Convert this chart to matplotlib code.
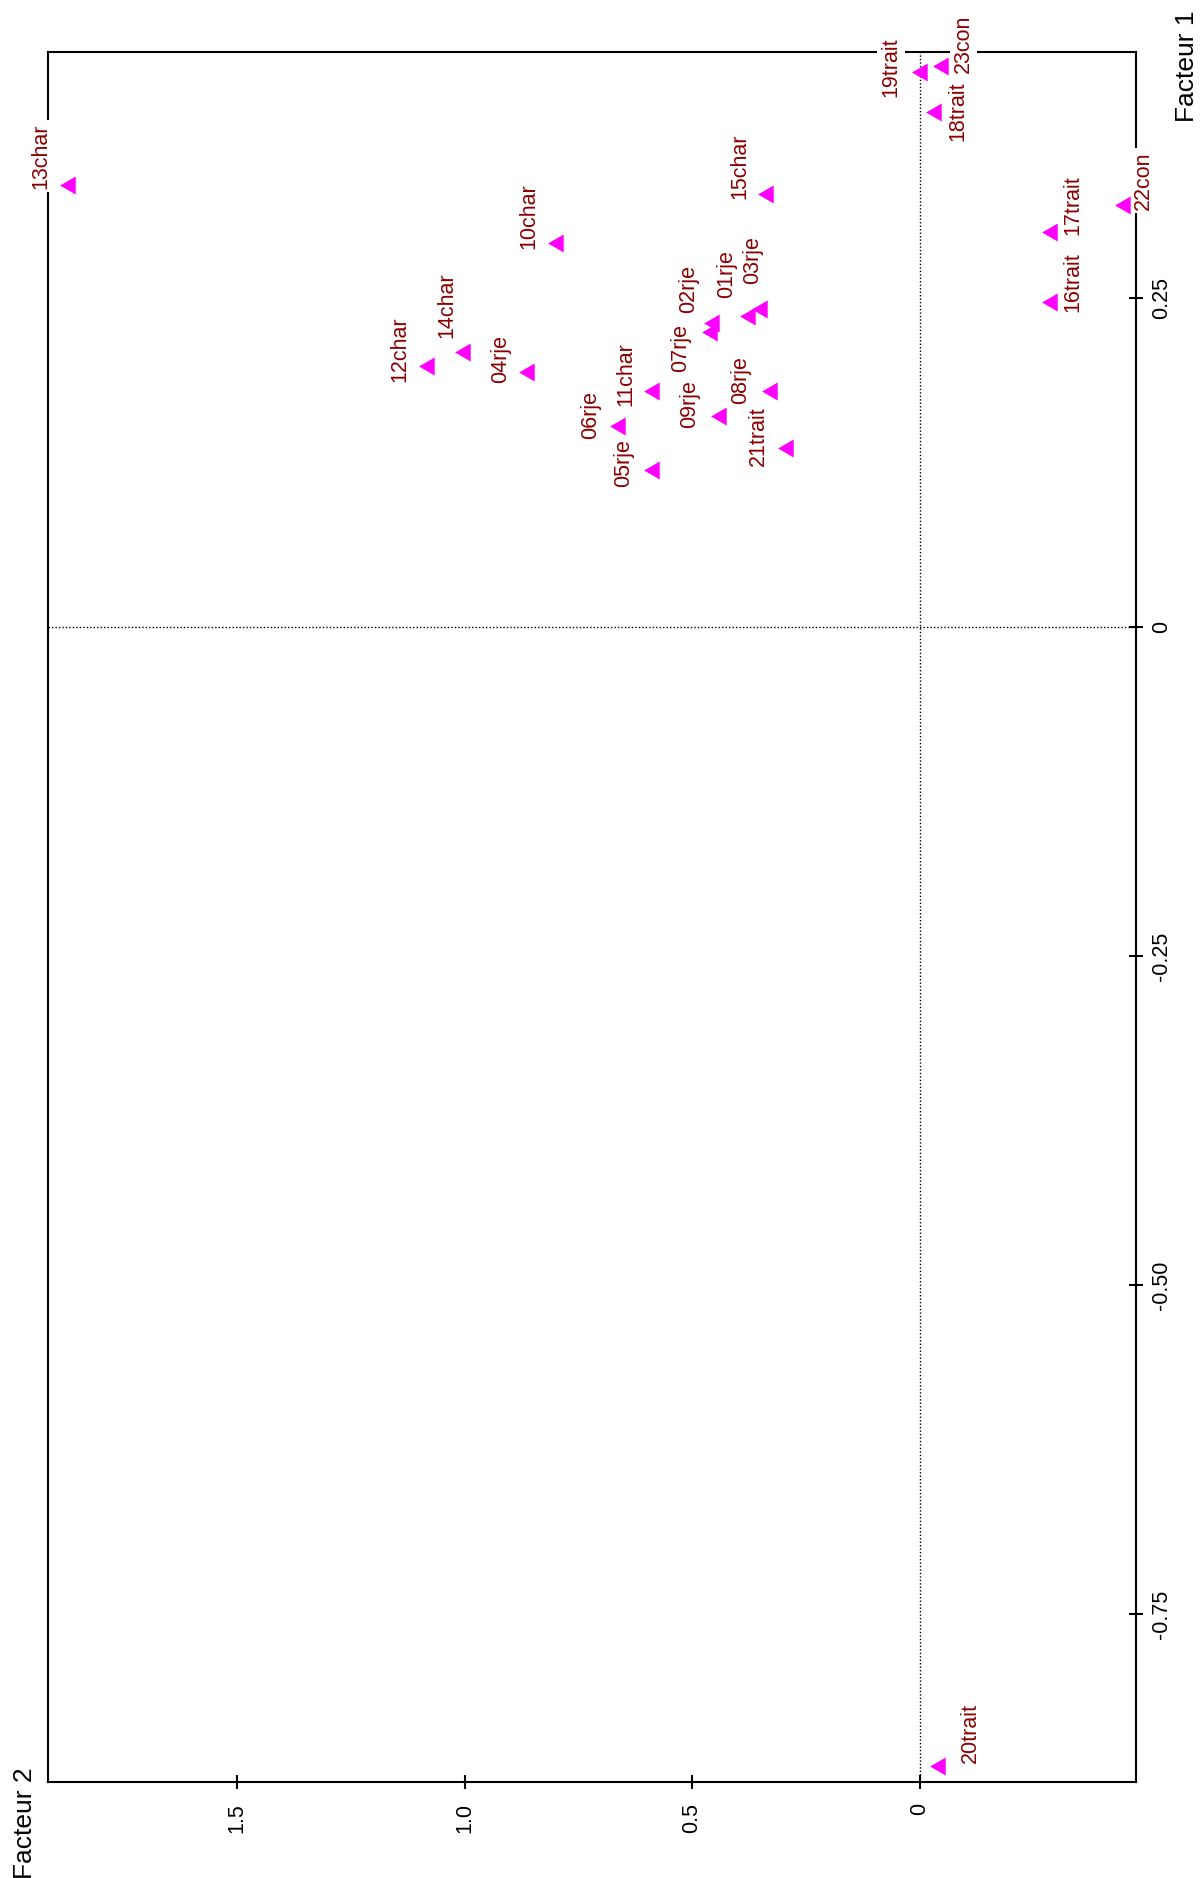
import matplotlib
matplotlib.use("Agg")
import matplotlib.pyplot as plt

plt.rcParams['font.family'] = ['Liberation Sans', 'DejaVu Sans']

# points of the factor map (Facteur 1, Facteur 2)
names = ['13char', '10char', '12char', '14char', '04rje', '06rje', '11char', '05rje',
         '09rje', '07rje', '02rje', '01rje', '03rje', '08rje', '21trait', '19trait',
         '23con', '18trait', '15char', '22con', '17trait', '16trait', '20trait']
fact1 = [0.336, 0.292, 0.198, 0.209, 0.194, 0.153, 0.179, 0.119,
         0.160, 0.224, 0.231, 0.236, 0.242, 0.179, 0.136, 0.422,
         0.426, 0.391, 0.329, 0.321, 0.300, 0.247, -0.8655]
fact2 = [1.867, 0.795, 1.079, 0.999, 0.859, 0.659, 0.584, 0.584,
         0.437, 0.457, 0.452, 0.373, 0.347, 0.325, 0.290, -0.005,
         -0.051, -0.036, 0.334, -0.451, -0.291, -0.291, -0.046]

f1_ticks = [0.25, 0, -0.25, -0.50, -0.75]
f1_labels = ['0.25', '0', '-0.25', '-0.50', '-0.75']
f2_ticks = [1.5, 1.0, 0.5, 0]
f2_labels = ['1.5', '1.0', '0.5', '0']

# where each label sits relative to its point (pixels, page is turned a quarter)
lab_dx = [-29, -29, -29, -18, -28, -29, -28, -30,
          -31, -31, -25, -23, -9, -31, -29, -31,
          21, 22, -28, 19, 21, 21, 30]
lab_dy = [4, 6, 16, -14, 11, 13, 15, 17,
          12, 40, -10, -18, -25, 13, 18, 25,
          7, 29, 5, 5, 3, 10, -3]

# filled triangle like R pch 17, turned to point left, centred on its centroid
tri = [(-1.555, 0), (0.778, -1.347), (0.778, 1.347)]

fig = plt.figure(figsize=(12, 18.78), dpi=100)
ax = fig.add_axes([0.0398, 0.0511, 0.9069, 0.9212])

ax.axhline(0, color='black', lw=1, ls=(0, (1, 1.5)), zorder=1)
ax.axvline(0, color='black', lw=1, ls=(0, (1, 1.5)), zorder=1)

ax.plot(fact2, fact1, ls='none', marker=tri, color='#ff00ff', ms=15, mec='none', zorder=5)

for i in range(len(names)):
    ax.annotate(names[i], (fact2[i], fact1[i]), xytext=(lab_dx[i], -lab_dy[i]),
                textcoords='offset pixels', rotation=90, rotation_mode='anchor',
                ha='left', va='center', fontsize=15.5, color='#8b0000',
                bbox=dict(boxstyle='square,pad=0.15', fc='white', ec='none'),
                zorder=4, annotation_clip=False)

ax.set_xlim(1.916, -0.4758)
ax.set_ylim(-0.8777, 0.4369)

ax.set_xticks(f2_ticks)
ax.set_xticklabels(f2_labels, rotation=90, fontsize=15.5)
ax.yaxis.tick_right()
ax.set_yticks(f1_ticks)
ax.set_yticklabels(f1_labels, rotation=90, fontsize=15.5, va='center')
ax.tick_params(axis='x', direction='inout', length=10, width=1.5, pad=10)
ax.tick_params(axis='y', direction='inout', length=10, width=1.5, pad=6)

for s in ax.spines.values():
    s.set_linewidth(1.5)

fig.text(1187 / 1200, 1 - 66 / 1878, 'Facteur 1', rotation=90, ha='center', va='center', fontsize=19)
fig.text(25 / 1200, 1 - 1823 / 1878, 'Facteur 2', rotation=90, ha='center', va='center', fontsize=19)

fig.savefig('out.png', dpi=100)
